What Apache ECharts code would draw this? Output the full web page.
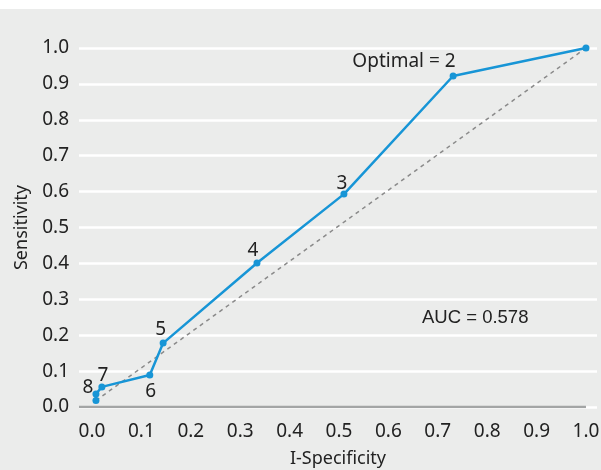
<!DOCTYPE html>
<html>
<head>
<meta charset="utf-8">
<script src="https://cdn.jsdelivr.net/npm/echarts@6/dist/echarts.min.js"></script>
<style>
html,body{margin:0;padding:0;background:#fff;}
#c{position:absolute;left:0;top:9px;width:601px;height:461px;}
</style>
</head>
<body>
<div id="c"></div>
<script>
// ROC points (1-Specificity, Sensitivity), ordered from the (1,1) corner down
var fpr = [1.0, 0.731, 0.510, 0.334, 0.144, 0.117, 0.020, 0.008, 0.008];
var tpr = [1.0, 0.922, 0.593, 0.401, 0.178, 0.089, 0.056, 0.036, 0.018];
var pointLabels = ['', 'Optimal = 2', '3', '4', '5', '6', '7', '8', ''];
var xTicks = [0, 0.1, 0.2, 0.3, 0.4, 0.5, 0.6, 0.7, 0.8, 0.9, 1.0];
var aucText = 'AUC = 0.578';
var xTitle = 'I-Specificity';
var yTitle = 'Sensitivity';

var FONT = '"Noto Sans", sans-serif';
var TXT = '#222';

var labelLayout = [
  null,
  {position: 'left', distance: -6, offset: [0, -14]},
  {position: 'top', distance: 4, offset: [-2, 6.5]},
  {position: 'top', distance: 6, offset: [-4, 6.5]},
  {position: 'top', distance: 7, offset: [-2.5, 6]},
  {position: 'bottom', distance: 5, offset: [1, -1]},
  {position: 'top', distance: 3, offset: [1, 5]},
  {position: 'left', distance: 4, offset: [5, -6]},
  null
];

var rocData = fpr.map(function (x, i) {
  var o = {value: [x, tpr[i]]};
  if (pointLabels[i]) {
    var l = labelLayout[i];
    o.label = {show: true, formatter: pointLabels[i], position: l.position, distance: l.distance, offset: l.offset};
  }
  return o;
});

var last = fpr.length - 1;
var chanceData = [[fpr[last], tpr[last]], [fpr[0], tpr[0]]];

var xMin = -0.0263, xMax = 1.0223;
var axisLineData = [[xMin, 0], [1.0, 0]];

var chart = echarts.init(document.getElementById('c'));
chart.setOption({
  backgroundColor: '#ebeceb',
  animation: false,
  textStyle: {fontFamily: FONT},
  grid: {left: 79, right: 4, top: 39, bottom: 63, containLabel: false, outerBoundsMode: 'none'},
  xAxis: {
    type: 'value', min: xMin, max: xMax,
    name: xTitle, nameLocation: 'middle', nameGap: 43,
    nameTextStyle: {fontSize: 18, color: TXT, fontFamily: FONT},
    axisLine: {show: false}, axisTick: {show: false}, splitLine: {show: false},
    axisLabel: {
      customValues: xTicks, fontSize: 19, color: TXT, margin: 15, fontFamily: FONT,
      formatter: function (v) { return v.toFixed(1); }
    }
  },
  yAxis: {
    type: 'value', min: 0, max: 1, interval: 0.1,
    name: yTitle, nameLocation: 'middle', nameGap: 47,
    nameTextStyle: {fontSize: 18, color: TXT, fontFamily: FONT},
    axisLine: {show: false}, axisTick: {show: false},
    splitLine: {show: true, lineStyle: {color: '#ffffff', width: 2.5},
      interval: function (idx, val) { return idx !== 0; }},
    axisLabel: {fontSize: 19, color: TXT, margin: 10, fontFamily: FONT,
      formatter: function (v) { return v.toFixed(1); }}
  },
  series: [
    {
      type: 'line', data: axisLineData, symbol: 'none', silent: true, z: 1,
      lineStyle: {color: '#a3a5a5', width: 2.5}
    },
    {
      type: 'line', data: chanceData, symbol: 'none', silent: true, z: 2,
      lineStyle: {color: '#8a8a8a', width: 1.5, type: [4, 4]}
    },
    {
      type: 'line', data: rocData, symbol: 'circle', symbolSize: 7, z: 3,
      itemStyle: {color: '#1795d6'},
      lineStyle: {color: '#1795d6', width: 2.5},
      label: {fontSize: 19, color: TXT, fontFamily: FONT}
    }
  ],
  graphic: [{
    type: 'text', left: 422, top: 299,
    style: {text: aucText, fontSize: 18.5, fill: TXT, font: '18.5px ' + FONT}
  }]
});
</script>
</body>
</html>
